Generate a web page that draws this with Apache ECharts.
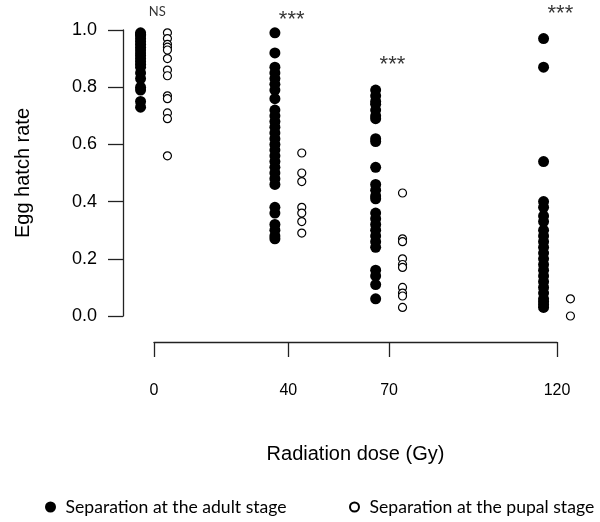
<!DOCTYPE html>
<html>
<head>
<meta charset="utf-8">
<script src="https://cdn.jsdelivr.net/npm/echarts@6/dist/echarts.min.js"></script>
<style>
  html, body { margin: 0; padding: 0; background: #fff; }
  #chart { width: 600px; height: 522px; }
</style>
</head>
<body>
<div id="chart"></div>
<script>
const doses = [0, 40, 70, 120]

// egg hatch rate per dose, separation at the adult stage (filled)
const adultRates = [
  [0.99, 0.985, 0.98, 0.97, 0.96, 0.95, 0.94, 0.93, 0.92, 0.91, 0.90, 0.89, 0.88, 0.87, 0.85, 0.83, 0.80, 0.79, 0.75, 0.73],
  [0.99, 0.92, 0.87, 0.85, 0.83, 0.81, 0.79, 0.76, 0.72, 0.70, 0.68, 0.66, 0.64, 0.62, 0.60, 0.58, 0.56, 0.54, 0.52, 0.50, 0.48, 0.46, 0.38, 0.36, 0.32, 0.30, 0.28, 0.27],
  [0.79, 0.77, 0.75, 0.74, 0.72, 0.70, 0.69, 0.62, 0.61, 0.52, 0.46, 0.44, 0.42, 0.41, 0.36, 0.34, 0.32, 0.30, 0.28, 0.26, 0.24, 0.16, 0.14, 0.11, 0.06],
  [0.97, 0.87, 0.54, 0.40, 0.38, 0.35, 0.33, 0.30, 0.28, 0.26, 0.24, 0.22, 0.20, 0.18, 0.16, 0.14, 0.12, 0.10, 0.08, 0.06, 0.05, 0.04, 0.03]
]

// separation at the pupal stage (open)
const pupalRates = [
  [0.99, 0.97, 0.95, 0.94, 0.93, 0.90, 0.86, 0.84, 0.77, 0.76, 0.71, 0.69, 0.56],
  [0.57, 0.50, 0.47, 0.38, 0.36, 0.33, 0.29],
  [0.43, 0.27, 0.26, 0.20, 0.18, 0.17, 0.10, 0.08, 0.07, 0.03],
  [0.06, 0.0]
]

const sigLabels = ['NS', '***', '***', '***']
const sigHeights = [1.063, 1.035, 0.878, 1.055]
const xTicks = [0, 40, 70, 120]

const shift = 4 // side-by-side offset of the two groups, in Gy
const font = 'Liberation Sans'

function toPoints(groups, dx) {
  const out = []
  groups.forEach((vals, i) => vals.forEach((v) => out.push([doses[i] + dx, v])))
  return out
}

const chart = echarts.init(document.getElementById('chart'))

chart.setOption({
  animation: false,
  grid: { left: 154, right: 43, top: 30, bottom: 206 },
  legend: [
    {
      left: 40, top: 493,
      itemWidth: 20, itemHeight: 11,
      data: ['Separation at the adult stage'],
      textStyle: { fontFamily: 'Lato', fontSize: 17.6, color: '#000' }
    },
    {
      left: 344, top: 493,
      itemWidth: 20, itemHeight: 9,
      data: ['Separation at the pupal stage'],
      textStyle: { fontFamily: 'Lato', fontSize: 17.6, color: '#000' }
    }
  ],
  xAxis: {
    type: 'value',
    min: 0,
    max: 120,
    offset: 26,
    name: 'Radiation dose (Gy)',
    nameLocation: 'middle',
    nameGap: 102,
    nameTextStyle: { fontFamily: font, fontSize: 20, color: '#000' },
    axisLine: { show: true, onZero: false, lineStyle: { color: '#222', width: 1.3 } },
    axisTick: { show: true, length: 15, customValues: xTicks, lineStyle: { color: '#222', width: 1.3 } },
    axisLabel: { customValues: xTicks, margin: 41, fontFamily: font, fontSize: 16, color: '#000' },
    splitLine: { show: false }
  },
  yAxis: {
    type: 'value',
    min: 0,
    max: 1,
    interval: 0.2,
    offset: 31,
    name: 'Egg hatch rate',
    nameLocation: 'middle',
    nameGap: 90,
    nameTextStyle: { fontFamily: font, fontSize: 20, color: '#000' },
    axisLine: { show: true, onZero: false, lineStyle: { color: '#222', width: 1.3 } },
    axisTick: { show: true, length: 15, lineStyle: { color: '#222', width: 1.3 } },
    axisLabel: { margin: 26, fontFamily: font, fontSize: 18, color: '#000', formatter: (v) => v.toFixed(1) },
    splitLine: { show: false }
  },
  series: [
    {
      name: 'Separation at the adult stage',
      type: 'scatter',
      clip: false,
      symbolSize: 11,
      itemStyle: { color: '#000', opacity: 1 },
      data: toPoints(adultRates, -shift)
    },
    {
      name: 'Separation at the pupal stage',
      type: 'scatter',
      clip: false,
      symbolSize: 8,
      itemStyle: { color: '#fff', borderColor: '#000', borderWidth: 1.2, opacity: 1 },
      data: toPoints(pupalRates, shift)
    },
    {
      type: 'scatter',
      clip: false,
      symbolSize: 0,
      silent: true,
      label: {
        show: true,
        position: 'inside',
        formatter: (p) => p.name,
        fontFamily: font,
        fontSize: 22,
        color: '#000'
      },
      data: doses.map((d, i) => ({
        name: sigLabels[i],
        value: [d + 1, sigHeights[i]],
        label: sigLabels[i] === 'NS' ? { fontFamily: 'Lato', fontSize: 13 } : undefined
      }))
    }
  ]
})
</script>
</body>
</html>
